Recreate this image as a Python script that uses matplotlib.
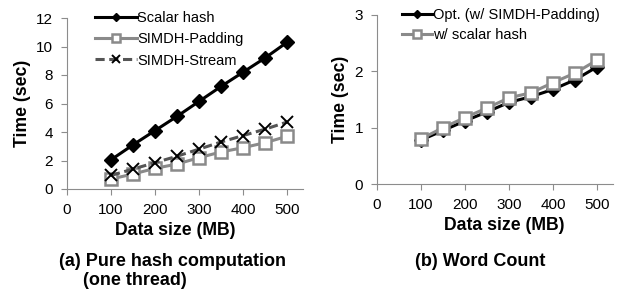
import matplotlib
matplotlib.use('Agg')
import matplotlib.pyplot as plt

plt.rcParams['font.family'] = ['Liberation Sans', 'DejaVu Sans']

# данные
sizes = [100, 150, 200, 250, 300, 350, 400, 450, 500]

scalar_hash = [2.05, 3.1, 4.1, 5.1, 6.15, 7.2, 8.2, 9.2, 10.3]
simdh_padding = [0.7, 1.05, 1.45, 1.75, 2.2, 2.6, 2.9, 3.25, 3.7]
simdh_stream = [0.95, 1.4, 1.85, 2.3, 2.8, 3.3, 3.75, 4.2, 4.7]

wc_opt = [0.78, 0.95, 1.12, 1.28, 1.45, 1.55, 1.68, 1.85, 2.08]
wc_scalar = [0.8, 1.0, 1.18, 1.35, 1.53, 1.62, 1.8, 1.97, 2.2]

x_ticks = [0, 100, 200, 300, 400, 500]

W, H = 620, 292
fig = plt.figure(figsize=(W / 100, H / 100), dpi=100)
# оси в пикселях: левый край, правый край, верх, низ
ax1 = fig.add_axes([67 / W, 1 - 189 / H, (303 - 67) / W, (189 - 18) / H])
ax2 = fig.add_axes([377 / W, 1 - 184 / H, (613 - 377) / W, (184 - 15) / H])

gray = '#8a8a8a'
dark = '#555555'


def style(ax, ymax, ystep, xlab_pos):
    '''оформление осей'''
    for s in ['top', 'right']:
        ax.spines[s].set_visible(False)
    for s in ['left', 'bottom']:
        ax.spines[s].set_color('#8c8c8c')
        ax.spines[s].set_linewidth(0.8)
    ax.set_xlim(0, 536)
    ax.set_ylim(0, ymax)
    ax.set_xticks(x_ticks)
    ax.set_yticks(list(range(0, ymax + 1, ystep)))
    ax.tick_params(labelsize=11, length=4, color='#8c8c8c', width=0.8, pad=6)
    ax.set_xlabel('Data size (MB)', fontsize=12.7, fontweight='bold', labelpad=4)
    ax.xaxis.label.set_x(xlab_pos)
    ax.set_ylabel('Time (sec)', fontsize=12.7, fontweight='bold', labelpad=4)


# (a)
ax1.plot(sizes, scalar_hash, color='black', lw=2.2, marker='D', ms=7.5,
         mfc='black', mec='black', label='Scalar hash', zorder=3)
ax1.plot(sizes, simdh_padding, color=gray, lw=2.2, marker='s', ms=8.5,
         mfc='white', mec=gray, mew=1.8, label='SIMDH-Padding')
ax1.plot(sizes, simdh_stream, color=dark, lw=2.2, ls=(0, (3, 1.5)), marker='x',
         ms=9, mec='black', mew=1.4, label='SIMDH-Stream')
style(ax1, 12, 2, 0.458)
fig.legend(handles=ax1.get_lines(), loc='upper left',
           bbox_to_anchor=(95 / W, 1 - 11 / H), frameon=False, fontsize=10.5,
           handlelength=2.85, handletextpad=0.05, labelspacing=0.5,
           borderpad=0, borderaxespad=0, markerscale=0.6)

# (b)
ax2.plot(sizes, wc_opt, color='black', lw=2.2, marker='D', ms=7.5,
         mfc='black', mec='black', label='Opt. (w/ SIMDH-Padding)', zorder=2)
ax2.plot(sizes, wc_scalar, color=gray, lw=2.2, marker='s', ms=9,
         mfc='white', mec=gray, mew=1.8, label='w/ scalar hash', zorder=3)
style(ax2, 3, 1, 0.54)
fig.legend(handles=ax2.get_lines(), loc='upper left',
           bbox_to_anchor=(402 / W, 1 - 8 / H), frameon=False, fontsize=10.5,
           handlelength=2.05, handletextpad=0.05, labelspacing=0.4,
           borderpad=0, borderaxespad=0, markerscale=0.6)

# подписи
cap = dict(fontsize=13, fontweight='bold', va='baseline', ha='left')
fig.text(59 / W, 1 - 266 / H, '(a) Pure hash computation', **cap)
fig.text(83 / W, 1 - 285 / H, '(one thread)', **cap)
fig.text(415 / W, 1 - 266 / H, '(b) Word Count', **cap)

fig.savefig('out.png', dpi=100)
